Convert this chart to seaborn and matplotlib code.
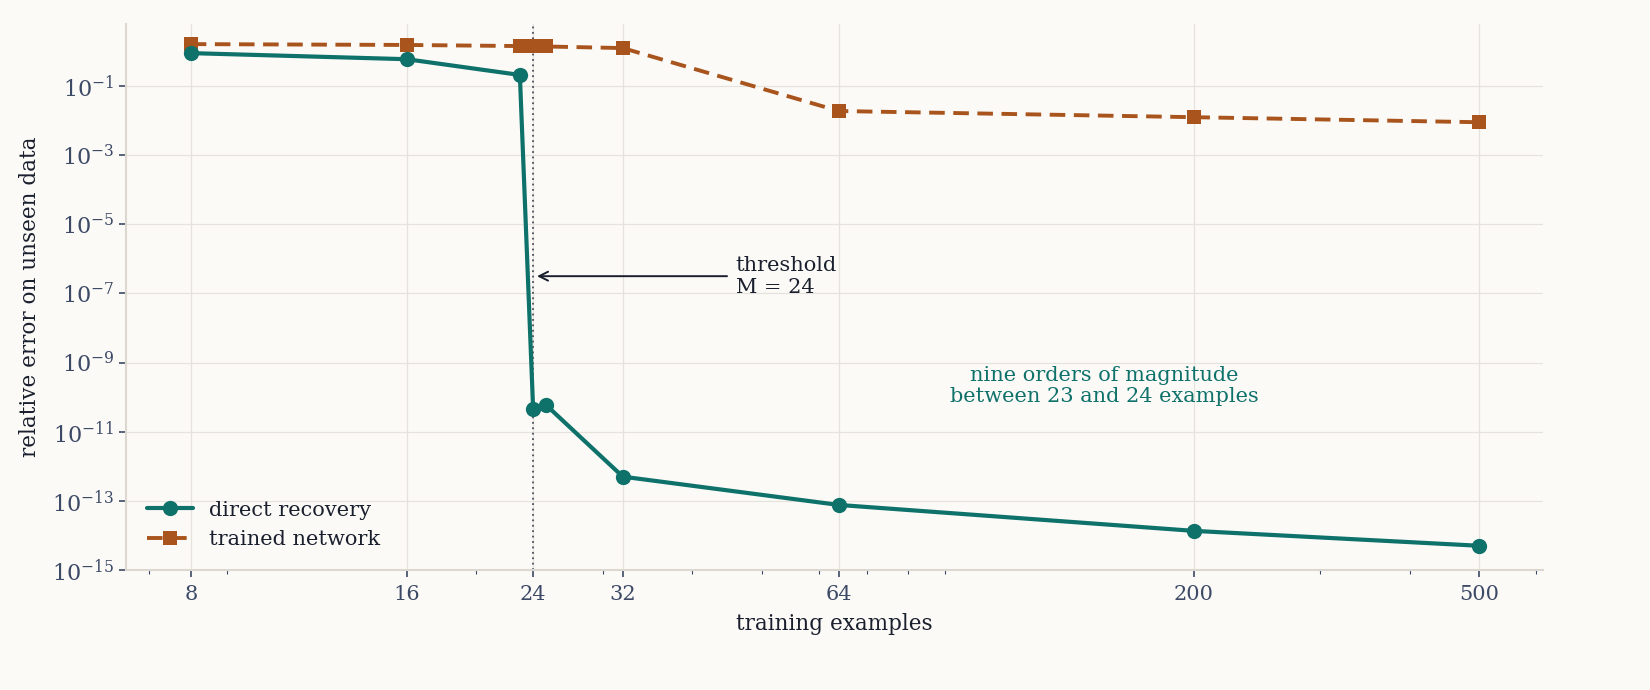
import numpy as np
import pandas as pd
import matplotlib
matplotlib.use("Agg")
import matplotlib.pyplot as plt
import matplotlib.ticker as mticker
import seaborn as sns

# ---- data ----
examples = [8, 16, 23, 24, 25, 32, 64, 200, 500]
direct_recovery = [0.9, 0.6, 0.21, 4.5e-11, 6.0e-11, 5.0e-13, 7.6e-14, 1.35e-14, 5.0e-15]
trained_network = [1.64, 1.55, 1.44, 1.40, 1.40, 1.26, 0.019, 0.0126, 0.009]
x_ticks = [8, 16, 24, 32, 64, 200, 500]
y_ticks = [1e-15, 1e-13, 1e-11, 1e-9, 1e-7, 1e-5, 1e-3, 1e-1]
threshold = 24

teal = "#0E716A"
orange = "#A8541C"
bg = "#FBFAF7"
tick_c = "#3D4A66"
text_c = "#1A1F2E"
grid_c = "#E6E3DD"
spine_c = "#DCD8CF"

sns.set_theme(style="whitegrid")
plt.rcParams["font.family"] = ["DejaVu Serif"]
plt.rcParams["mathtext.fontset"] = "dejavuserif"

fig = plt.figure(figsize=(16.5, 6.9), dpi=100, facecolor=bg)
ax = fig.add_axes([0.0764, 0.174, 0.8587, 0.791])
ax.set_facecolor(bg)

df = pd.DataFrame({"x": examples, "direct": direct_recovery, "trained": trained_network})

sns.lineplot(data=df, x="x", y="direct", ax=ax, color=teal, lw=3, marker="o",
             markersize=11, markeredgewidth=0, label="direct recovery", zorder=4)
sns.lineplot(data=df, x="x", y="trained", ax=ax, color=orange, lw=2.8, marker="s",
             markersize=10, markeredgewidth=0, label="trained network", zorder=3)
ax.lines[1].set_dashes([4, 2.2])

ax.set_xscale("log")
ax.set_yscale("log")
ax.set_xlim(6.5, 613)
ax.set_ylim(1e-15, 6.2)

ax.xaxis.set_major_locator(mticker.FixedLocator(x_ticks))
ax.xaxis.set_major_formatter(mticker.FixedFormatter([str(v) for v in x_ticks]))
ax.xaxis.set_minor_locator(mticker.LogLocator(base=10, subs=np.arange(2, 10)))
ax.xaxis.set_minor_formatter(mticker.NullFormatter())
ax.yaxis.set_major_locator(mticker.FixedLocator(y_ticks))
ax.yaxis.set_major_formatter(mticker.LogFormatterSciNotation())
ax.yaxis.set_minor_locator(mticker.NullLocator())

ax.tick_params(axis="both", which="major", labelsize=15, colors=tick_c, length=5, width=1.2,
               bottom=True, left=True)
ax.tick_params(axis="y", which="major", labelsize=16)
ax.tick_params(axis="x", which="minor", length=3, width=0.8, colors=tick_c, bottom=True)
ax.tick_params(axis="x", which="major", pad=6)
ax.grid(True, which="major", color=grid_c, lw=0.9)
ax.grid(False, which="minor")

for s in ["top", "right"]:
    ax.spines[s].set_visible(False)
for s in ["left", "bottom"]:
    ax.spines[s].set_color(spine_c)
    ax.spines[s].set_linewidth(1.5)

ax.axvline(threshold, color="#4A4F5C", lw=1.3, ls=(0, (1, 2)), zorder=2)

ax.annotate("threshold\nM = 24", xy=(24.3, 10**-6.5), xytext=(46, 10**-6.5),
            ha="left", va="center", fontsize=15, color=text_c,
            arrowprops=dict(arrowstyle="->", color=text_c, lw=1.4, shrinkA=4, shrinkB=0,
                            mutation_scale=16))
ax.text(150, 2.1e-10, "nine orders of magnitude\nbetween 23 and 24 examples",
        ha="center", va="center", fontsize=15, color=teal, linespacing=1.15)

ax.set_xlabel("training examples", fontsize=15.5, color=text_c, labelpad=6)
ax.set_ylabel("relative error on unseen data", fontsize=15.5, color=text_c, labelpad=8)

leg = ax.legend(loc="lower left", frameon=False, fontsize=15, handlelength=2.2,
                borderaxespad=0.6, labelspacing=0.5)
for t in leg.get_texts():
    t.set_color(text_c)

fig.savefig("out.png", dpi=100, facecolor=bg)
